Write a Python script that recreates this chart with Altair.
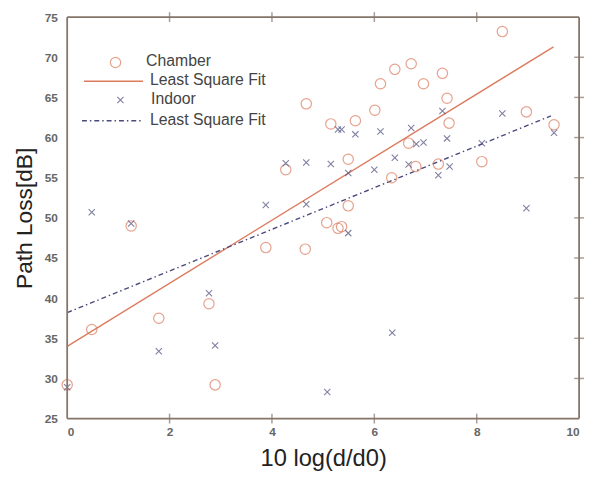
import altair as alt
import pandas as pd

# ---- data ----
chamber_x = [0.0, 0.48, 1.25, 1.79, 2.77, 2.89, 3.88, 4.27, 4.65, 4.67,
             5.07, 5.15, 5.29, 5.36, 5.49, 5.49, 5.63, 6.01, 6.12, 6.34,
             6.40, 6.67, 6.72, 6.81, 6.96, 7.25, 7.33, 7.42, 7.46, 8.10,
             8.50, 8.97, 9.51]
chamber_y = [29.2, 36.1, 49.0, 37.5, 39.3, 29.2, 46.3, 56.0, 46.1, 64.2,
             49.4, 61.7, 48.7, 48.9, 57.3, 51.5, 62.1, 63.4, 66.7, 55.0,
             68.5, 59.3, 69.2, 56.4, 66.7, 56.7, 68.0, 64.9, 61.8, 57.0,
             73.2, 63.2, 61.6]

indoor_x = [0.0, 0.48, 1.25, 1.79, 2.77, 2.89, 3.88, 4.27, 4.67, 4.67,
            5.08, 5.15, 5.29, 5.36, 5.49, 5.49, 5.63, 6.00, 6.12, 6.35,
            6.40, 6.67, 6.72, 6.82, 6.96, 7.25, 7.33, 7.42, 7.47, 8.10,
            8.50, 8.97, 9.51]
indoor_y = [28.9, 50.7, 49.3, 33.4, 40.6, 34.1, 51.6, 56.8, 56.9, 51.7,
            28.3, 56.7, 61.0, 61.0, 55.6, 48.1, 60.4, 56.0, 60.75, 35.7,
            57.5, 56.65, 61.2, 59.2, 59.4, 55.3, 63.3, 59.9, 56.4, 59.3,
            63.0, 51.2, 60.6]

chamber_fit_x = [0.0, 9.5]
chamber_fit_y = [34.0, 71.3]
indoor_fit_x = [0.0, 9.45]
indoor_fit_y = [38.2, 62.7]

x_ticks = [0, 2, 4, 6, 8, 10]
y_ticks = [25, 30, 35, 40, 45, 50, 55, 60, 65, 70, 75]
inner_x_ticks = [2, 4, 6, 8]
inner_y_ticks = [30, 35, 40, 45, 50, 55, 60, 65, 70]

legend_labels = ["Chamber", "Least Square Fit", "Indoor", "Least Square Fit"]

# ---- styling ----
W, H = 519, 407
ORANGE = "#dc7b5e"
NAVY = "#4a4a7c"
FRAME = "#857468"
XPATH = "M-1,-1L1,1M1,-1L-1,1"
FONT = "Liberation Sans"

cham = pd.DataFrame({"x": chamber_x, "y": chamber_y})
ind = pd.DataFrame({"x": indoor_x, "y": indoor_y})
cfit = pd.DataFrame({"x": chamber_fit_x, "y": chamber_fit_y})
ifit = pd.DataFrame({"x": indoor_fit_x, "y": indoor_fit_y})

xs = alt.Scale(domain=[0, 10], nice=False, zero=False)
ys = alt.Scale(domain=[25, 75], nice=False, zero=False)

xax = alt.Axis(values=x_ticks, title="10 log(d/d0)", tickSize=0, domain=False,
               grid=False, labelPadding=8, titlePadding=10, titleFontSize=24,
               titleFontWeight="normal", titleColor="#222", labelFontSize=12,
               labelColor="#666", labelFontWeight="bold", labelFont=FONT,
               titleFont=FONT)
yax = alt.Axis(values=y_ticks, title="Path Loss[dB]", tickSize=0, domain=False,
               grid=False, labelPadding=10, titlePadding=8, titleFontSize=23,
               titleFontWeight="normal", titleColor="#222", labelFontSize=12,
               labelColor="#666", labelFontWeight="bold", labelFont=FONT,
               titleFont=FONT)

one = pd.DataFrame({"a": [0]})

# frame drawn as four rules on the plot edges (data-space)
frame_h = alt.Chart(pd.DataFrame({"y": [25, 75]})).mark_rule(
    color=FRAME, strokeWidth=1.8).encode(
    y=alt.Y("y:Q", scale=ys), x=alt.value(0), x2=alt.value(W))
frame_v = alt.Chart(pd.DataFrame({"x": [0, 10]})).mark_rule(
    color=FRAME, strokeWidth=1.8).encode(
    x=alt.X("x:Q", scale=xs), y=alt.value(0), y2=alt.value(H))

chamber_pts = alt.Chart(cham).mark_point(
    shape="circle", filled=False, size=110, strokeWidth=1.2, color=ORANGE
).encode(x=alt.X("x:Q", scale=xs, axis=xax), y=alt.Y("y:Q", scale=ys, axis=yax))

indoor_pts = alt.Chart(ind).mark_point(
    shape=XPATH, filled=False, size=40, strokeWidth=1.1, color=NAVY
).encode(x=alt.X("x:Q", scale=xs), y=alt.Y("y:Q", scale=ys))

chamber_line = alt.Chart(cfit).mark_line(color=ORANGE, strokeWidth=1.4).encode(
    x=alt.X("x:Q", scale=xs), y=alt.Y("y:Q", scale=ys))

indoor_line = alt.Chart(ifit).mark_line(
    color=NAVY, strokeWidth=1.4, strokeDash=[5, 3, 1.5, 3]
).encode(x=alt.X("x:Q", scale=xs), y=alt.Y("y:Q", scale=ys))

# inward ticks (bottom, top, right)
tx = pd.DataFrame({"x": inner_x_ticks})
ty = pd.DataFrame({"y": inner_y_ticks})
bottom_ticks = alt.Chart(tx).mark_tick(
    color=FRAME, thickness=1.5, size=10, orient="vertical").encode(
    x=alt.X("x:Q", scale=xs), y=alt.value(H))
top_ticks = alt.Chart(tx).mark_tick(
    color=FRAME, thickness=1.5, size=10, orient="vertical").encode(
    x=alt.X("x:Q", scale=xs), y=alt.value(0))
right_ticks = alt.Chart(ty).mark_tick(
    color=FRAME, thickness=1.5, size=10, orient="horizontal").encode(
    y=alt.Y("y:Q", scale=ys), x=alt.value(W))

# manual legend
leg_font = dict(font=FONT, fontSize=16, color="#444", align="left", baseline="middle")
leg_circle = alt.Chart(one).mark_point(
    shape="circle", filled=False, size=110, strokeWidth=1.2, color=ORANGE
).encode(x=alt.value(49), y=alt.value(46))
leg_line1 = alt.Chart(one).mark_rule(
    color=ORANGE, strokeWidth=1.4).encode(x=alt.value(17), x2=alt.value(77), y=alt.value(65))
leg_cross = alt.Chart(one).mark_point(
    shape=XPATH, filled=False, size=40, strokeWidth=1.1, color=NAVY
).encode(x=alt.value(54), y=alt.value(84))
leg_line2 = alt.Chart(one).mark_rule(
    color=NAVY, strokeWidth=1.4, strokeDash=[5, 3, 1.5, 3]
).encode(x=alt.value(15), x2=alt.value(75), y=alt.value(105))

leg_text = []
for lab, tx_, ty_ in zip(legend_labels, [80, 84, 85, 84], [45, 64, 83, 104]):
    leg_text.append(
        alt.Chart(pd.DataFrame({"t": [lab]})).mark_text(**leg_font).encode(
            text="t:N", x=alt.value(tx_), y=alt.value(ty_))
    )

chart = alt.layer(
    chamber_line, indoor_line, chamber_pts, indoor_pts,
    bottom_ticks, top_ticks, right_ticks, frame_h, frame_v,
    leg_circle, leg_line1, leg_cross, leg_line2, *leg_text
).properties(
    width=W, height=H,
    autosize=alt.AutoSizeParams(type="none"),
    padding={"left": 60, "top": 6, "right": 8, "bottom": 60},
    background="white",
).configure_view(stroke=None)

chart.save("out.html", embed_options={"renderer": "svg", "actions": False})
